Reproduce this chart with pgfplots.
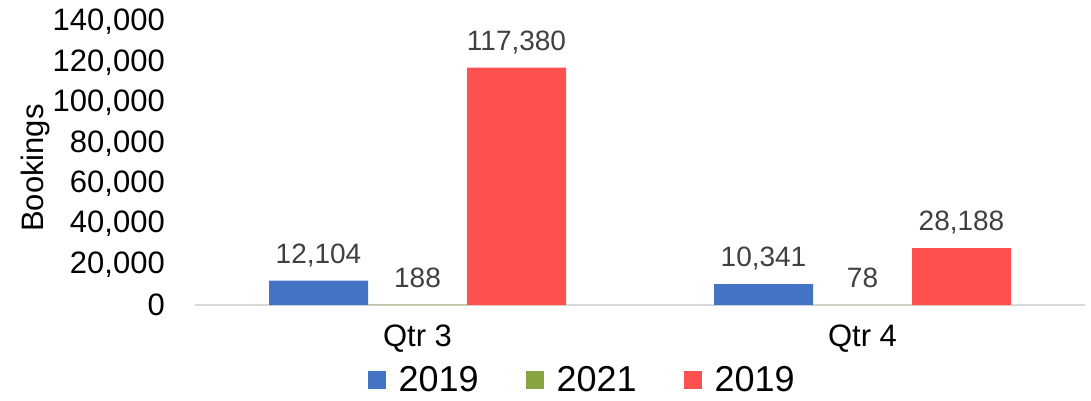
\documentclass[border=0pt]{standalone}
\usepackage{fontspec}
\setmainfont{Liberation Sans}
\usepackage{pgfplots}
\pgfplotsset{compat=1.18}
\definecolor{cblue}{HTML}{4472C4}
\definecolor{cgreen}{HTML}{86A542}
\definecolor{cred}{HTML}{FF5050}
\definecolor{lblgray}{HTML}{404040}
\begin{document}
\begin{tikzpicture}[x=1pt,y=1pt]
\useasboundingbox (0,0) rectangle (1091,400);
\begin{axis}[
  at={(195pt,95pt)}, anchor=south west,
  scale only axis, width=890pt, height=283pt,
  xmin=-0.5, xmax=1.5, ymin=0, ymax=140000,
  xtick={0,1}, xticklabels={Qtr 3,Qtr 4},
  ytick={0,20000,40000,60000,80000,100000,120000,140000},
  major tick length=0pt,
  axis lines*=left,
  y axis line style={draw=none},
  x axis line style={draw=black!15, line width=1.2pt},
  /pgf/number format/.cd, fixed, 1000 sep={,}, assume math mode=true,
  /pgfplots/.cd,
  scaled y ticks=false,
  yticklabel style={font=\fontsize{31}{31}\selectfont, anchor=east, inner sep=0pt},
  yticklabel shift=30pt,
  xticklabel style={font=\fontsize{31}{31}\selectfont, anchor=north, inner sep=0pt},
  xticklabel shift=20pt,
  ylabel={Bookings},
  ylabel style={font=\fontsize{31}{31}\selectfont, at={(rel axis cs:-0.1787,0.484)}, anchor=center, inner sep=0pt},
  ybar=0pt, bar width=99pt,
  nodes near coords,
  every node near coord/.append style={font=\fontsize{28}{28}\selectfont, text=lblgray, anchor=base, inner sep=0pt, yshift=17.5pt},
  legend style={at={(0.435,-0.265)}, anchor=center, draw=none, fill=none,
    legend columns=-1, font=\fontsize{36}{36}\selectfont,
    /tikz/every odd column/.append style={column sep=11pt},
    /tikz/every even column/.append style={column sep=45pt}},
  legend image code/.code={\fill[#1] (0pt,-9pt) rectangle (18pt,9pt);},
]
\addplot[fill=cblue, draw=none] coordinates {(0,12104) (1,10341)};
\addplot[fill=cgreen, draw=none] coordinates {(0,188) (1,78)};
\addplot[fill=cred, draw=none] coordinates {(0,117380) (1,28188)};
\legend{2019,2021,2019}
\end{axis}
\end{tikzpicture}
\end{document}
